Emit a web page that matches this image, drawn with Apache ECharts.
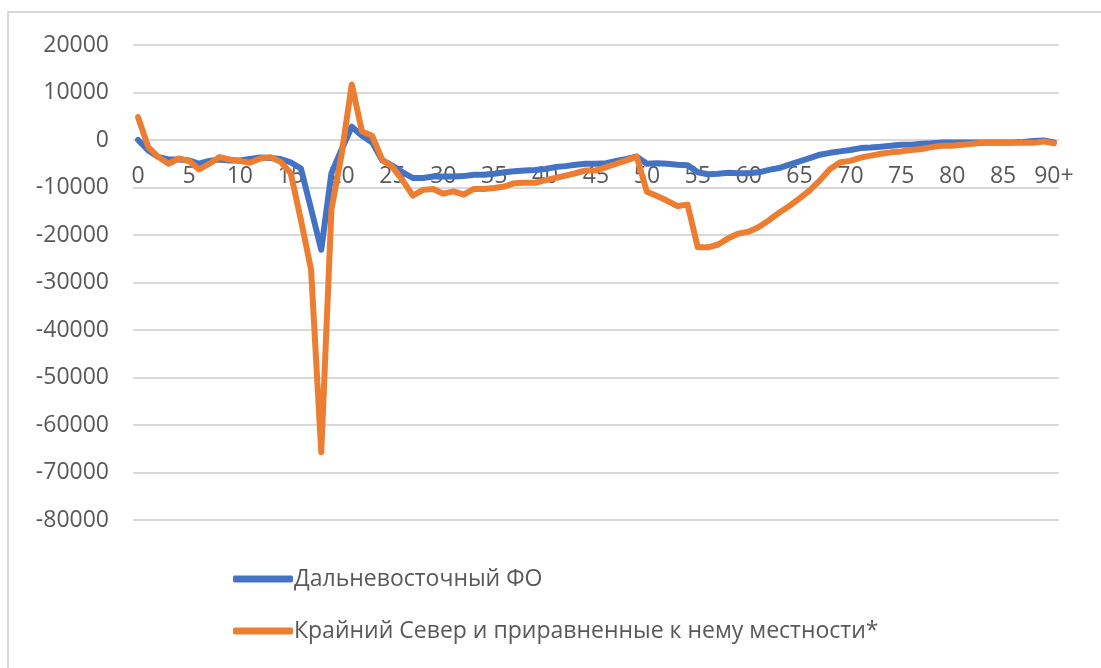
<!DOCTYPE html>
<html>
<head>
<meta charset="utf-8">
<script src="https://cdn.jsdelivr.net/npm/echarts@6/dist/echarts.min.js"></script>
<style>
html,body{margin:0;padding:0;background:#fff;}
#chart{width:1101px;height:668px;}
</style>
</head>
<body>
<div id="chart"></div>
<script>
const ages = ['0','1','2','3','4','5','6','7','8','9','10','11','12','13','14','15','16','17','18','19',
'20','21','22','23','24','25','26','27','28','29','30','31','32','33','34','35','36','37','38','39',
'40','41','42','43','44','45','46','47','48','49','50','51','52','53','54','55','56','57','58','59',
'60','61','62','63','64','65','66','67','68','69','70','71','72','73','74','75','76','77','78','79',
'80','81','82','83','84','85','86','87','88','89','90+'];

const seriesNames = ['Дальневосточный ФО', 'Крайний Север и приравненные к нему местности*'];

const farEast = [0,-2200,-3600,-4100,-4100,-4300,-5000,-4400,-4100,-4300,
-4300,-4000,-3700,-3800,-4000,-4700,-6000,-14500,-23100,-7000,
-2000,2800,900,-500,-4300,-5400,-6800,-8000,-8000,-7700,
-7700,-7700,-7600,-7300,-7300,-7100,-6800,-6600,-6400,-6300,
-6100,-5700,-5500,-5200,-5000,-5000,-4900,-4400,-4000,-3500,
-5000,-4900,-5000,-5200,-5300,-6800,-7200,-7100,-6900,-7000,
-7000,-6800,-6300,-5900,-5200,-4500,-3800,-3100,-2700,-2400,
-2100,-1700,-1600,-1400,-1200,-1000,-1000,-800,-700,-500,
-500,-500,-500,-500,-500,-500,-500,-400,-200,-100,-500];

const farNorth = [4800,-1500,-3600,-5000,-3900,-4400,-6200,-5000,-3600,-4100,
-4400,-4800,-3900,-3600,-4600,-7000,-16800,-27300,-65700,-14700,
-3000,11700,1800,900,-4200,-5700,-8500,-11700,-10500,-10300,
-11300,-10800,-11500,-10300,-10300,-10100,-9800,-9100,-9000,-9000,
-8500,-8000,-7500,-7000,-6400,-6400,-5700,-5000,-4300,-3500,
-10900,-11800,-12800,-13900,-13600,-22600,-22600,-22000,-20700,-19700,
-19300,-18300,-16900,-15300,-13900,-12300,-10600,-8500,-6100,-4700,
-4400,-3700,-3300,-2900,-2600,-2400,-2100,-1900,-1500,-1200,
-1200,-1000,-800,-600,-600,-600,-600,-600,-600,-300,-700];

const yMin = -80000, yMax = 20000, yStep = 10000;

const gridTop = 45, gridBottom = 148, chartH = 668;
// pixel distance from plot bottom to the zero line, used to lift category labels up to y = 0
const plotH = chartH - gridTop - gridBottom;
const zeroLift = plotH * (0 - yMin) / (yMax - yMin);

const chart = echarts.init(document.getElementById('chart'), null, {renderer:'canvas'});
const txt = {color:'#595959', fontFamily:'Open Sans', fontSize:23};
chart.setOption({
  animation:false,
  backgroundColor:'#fff',
  graphic:[{type:'rect', shape:{x:8, y:12, width:1110, height:700},
    style:{fill:'none', stroke:'#d9d9d9', lineWidth:2}, silent:true, z:-10}],
  grid:{left:133, right:42, top:gridTop, bottom:gridBottom, containLabel:false},
  xAxis:{type:'category', data:ages, boundaryGap:true, z:0,
    axisLine:{show:false, onZero:false}, axisTick:{show:false},
    axisLabel:Object.assign({interval:4, margin:25 - zeroLift}, txt),
    splitLine:{show:false}},
  yAxis:{type:'value', min:yMin, max:yMax, interval:yStep, z:0,
    axisLine:{show:false}, axisTick:{show:false},
    axisLabel:Object.assign({margin:24, formatter:function(v){return String(v);}}, txt),
    splitLine:{lineStyle:{color:'#d9d9d9', width:2}}},
  legend:{orient:'vertical', left:228, top:559, itemWidth:60, itemHeight:7, itemGap:22,
    icon:'roundRect',
    textStyle:Object.assign({padding:[0,0,0,-4], lineHeight:30}, txt),
    data:seriesNames},
  series:[
    {name:seriesNames[0], type:'line', data:farEast, symbol:'none', showSymbol:false, z:5,
      lineStyle:{color:'#4472C4', width:6, join:'round', cap:'round'}, itemStyle:{color:'#4472C4'}},
    {name:seriesNames[1], type:'line', data:farNorth, symbol:'none', showSymbol:false, z:6,
      lineStyle:{color:'#ED7D31', width:6, join:'round', cap:'round'}, itemStyle:{color:'#ED7D31'}}
  ]
});
</script>
</body>
</html>
